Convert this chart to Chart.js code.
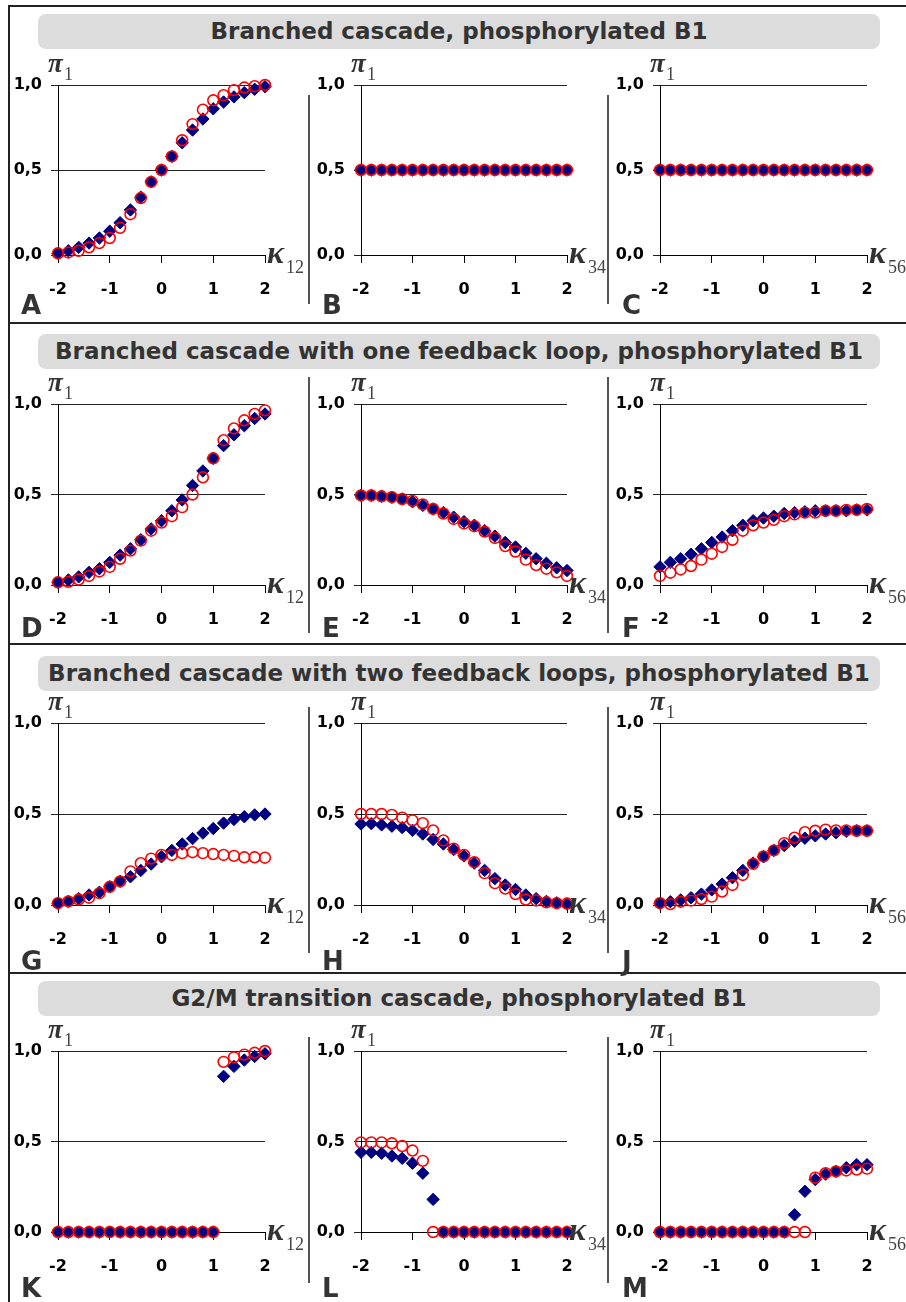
<!DOCTYPE html>
<html>
<head>
<meta charset="utf-8">
<script src="https://cdn.jsdelivr.net/npm/chart.js@4.4.1/dist/chart.umd.min.js"></script>
<style>
  html, body { margin: 0; padding: 0; background: #fff; }
  body { width: 906px; height: 1302px; overflow: hidden; position: relative; font-family: "DejaVu Sans", sans-serif; }
  .abs { position: absolute; }
  .banner { position: absolute; left: 38px; width: 842px; height: 35px; background: #dcdcdc; border-radius: 8px;
            color: #333; font-weight: bold; font-size: 23px; line-height: 35px; text-align: center; white-space: nowrap; }
  .letter { position: absolute; color: #333; font-weight: bold; font-size: 26px; line-height: 26px; }
  canvas { position: absolute; }
</style>
</head>
<body>
<script>
// x values (kappa, log scale) shared by every panel
const kappa = [-2, -1.8, -1.6, -1.4, -1.2, -1, -0.8, -0.6, -0.4, -0.2, 0, 0.2, 0.4, 0.6, 0.8, 1, 1.2, 1.4, 1.6, 1.8, 2];
const xTicks = [-2, -1, 0, 1, 2];
const yTicks = [0, 0.5, 1];

const sectionTitles = [
  'Branched cascade, phosphorylated B1',
  'Branched cascade with one feedback loop, phosphorylated B1',
  'Branched cascade with two feedback loops, phosphorylated B1',
  'G2/M transition cascade, phosphorylated B1'
];
const panelLetters = ['A', 'B', 'C', 'D', 'E', 'F', 'G', 'H', 'J', 'K', 'L', 'M'];
const kappaSubs = ['12', '34', '56'];

// blue diamonds / red circles, one pair per panel
const aDiamond = [0.01, 0.025, 0.045, 0.07, 0.10, 0.14, 0.19, 0.265, 0.34, 0.43, 0.50, 0.58, 0.66, 0.735, 0.80, 0.86, 0.90, 0.93, 0.955, 0.975, 0.99];
const aCircle  = [0.01, 0.015, 0.025, 0.045, 0.07, 0.10, 0.16, 0.24, 0.335, 0.43, 0.50, 0.58, 0.675, 0.77, 0.855, 0.91, 0.94, 0.97, 0.985, 0.993, 1.0];
const bDiamond = [0.5, 0.5, 0.5, 0.5, 0.5, 0.5, 0.5, 0.5, 0.5, 0.5, 0.5, 0.5, 0.5, 0.5, 0.5, 0.5, 0.5, 0.5, 0.5, 0.5, 0.5];
const bCircle  = [0.5, 0.5, 0.5, 0.5, 0.5, 0.5, 0.5, 0.5, 0.5, 0.5, 0.5, 0.5, 0.5, 0.5, 0.5, 0.5, 0.5, 0.5, 0.5, 0.5, 0.5];
const cDiamond = [0.5, 0.5, 0.5, 0.5, 0.5, 0.5, 0.5, 0.5, 0.5, 0.5, 0.5, 0.5, 0.5, 0.5, 0.5, 0.5, 0.5, 0.5, 0.5, 0.5, 0.5];
const cCircle  = [0.5, 0.5, 0.5, 0.5, 0.5, 0.5, 0.5, 0.5, 0.5, 0.5, 0.5, 0.5, 0.5, 0.5, 0.5, 0.5, 0.5, 0.5, 0.5, 0.5, 0.5];
const dDiamond = [0.015, 0.028, 0.045, 0.07, 0.09, 0.125, 0.165, 0.20, 0.25, 0.31, 0.355, 0.41, 0.47, 0.55, 0.63, 0.70, 0.77, 0.83, 0.88, 0.92, 0.945];
const dCircle  = [0.015, 0.018, 0.03, 0.05, 0.075, 0.10, 0.145, 0.19, 0.245, 0.30, 0.345, 0.38, 0.43, 0.50, 0.595, 0.70, 0.80, 0.865, 0.91, 0.945, 0.965];
const eDiamond = [0.495, 0.495, 0.49, 0.485, 0.475, 0.46, 0.44, 0.42, 0.40, 0.375, 0.35, 0.33, 0.30, 0.27, 0.235, 0.21, 0.175, 0.145, 0.12, 0.095, 0.08];
const eCircle  = [0.495, 0.495, 0.49, 0.485, 0.475, 0.465, 0.445, 0.42, 0.395, 0.365, 0.34, 0.325, 0.295, 0.26, 0.215, 0.185, 0.14, 0.11, 0.09, 0.07, 0.05];
const fDiamond = [0.10, 0.125, 0.145, 0.17, 0.20, 0.235, 0.265, 0.30, 0.33, 0.355, 0.37, 0.38, 0.395, 0.40, 0.405, 0.41, 0.41, 0.41, 0.41, 0.415, 0.415];
const fCircle  = [0.05, 0.068, 0.086, 0.105, 0.14, 0.173, 0.21, 0.25, 0.30, 0.33, 0.345, 0.36, 0.38, 0.39, 0.40, 0.40, 0.41, 0.41, 0.415, 0.415, 0.42];
const gDiamond = [0.01, 0.02, 0.035, 0.055, 0.07, 0.10, 0.13, 0.155, 0.19, 0.225, 0.265, 0.30, 0.335, 0.365, 0.395, 0.42, 0.45, 0.47, 0.485, 0.495, 0.50];
const gCircle  = [0.01, 0.02, 0.03, 0.04, 0.065, 0.10, 0.13, 0.185, 0.23, 0.255, 0.275, 0.275, 0.285, 0.29, 0.285, 0.28, 0.275, 0.27, 0.262, 0.262, 0.26];
const hDiamond = [0.445, 0.447, 0.44, 0.433, 0.425, 0.41, 0.39, 0.36, 0.335, 0.305, 0.27, 0.23, 0.19, 0.145, 0.11, 0.085, 0.055, 0.035, 0.02, 0.012, 0.006];
const hCircle  = [0.50, 0.50, 0.50, 0.495, 0.48, 0.465, 0.45, 0.41, 0.355, 0.31, 0.275, 0.235, 0.175, 0.12, 0.09, 0.06, 0.03, 0.025, 0.015, 0.01, 0.008];
const jDiamond = [0.01, 0.018, 0.028, 0.04, 0.06, 0.083, 0.115, 0.15, 0.19, 0.23, 0.265, 0.30, 0.327, 0.35, 0.367, 0.38, 0.39, 0.397, 0.405, 0.408, 0.408];
const jCircle  = [0.01, 0.005, 0.018, 0.024, 0.033, 0.046, 0.074, 0.11, 0.165, 0.226, 0.267, 0.30, 0.34, 0.37, 0.40, 0.408, 0.414, 0.41, 0.41, 0.408, 0.408];
const kDiamond = [0, 0, 0, 0, 0, 0, 0, 0, 0, 0, 0, 0, 0, 0, 0, 0, 0.86, 0.915, 0.95, 0.97, 0.985];
const kCircle  = [0, 0, 0, 0, 0, 0, 0, 0, 0, 0, 0, 0, 0, 0, 0, 0, 0.94, 0.965, 0.98, 0.99, 1.0];
const lDiamond = [0.44, 0.44, 0.435, 0.42, 0.407, 0.38, 0.325, 0.18, 0, 0, 0, 0, 0, 0, 0, 0, 0, 0, 0, 0, 0];
const lCircle  = [0.495, 0.495, 0.495, 0.49, 0.475, 0.45, 0.393, 0, 0, 0, 0, 0, 0, 0, 0, 0, 0, 0, 0, 0, 0];
const mDiamond = [0, 0, 0, 0, 0, 0, 0, 0, 0, 0, 0, 0, 0, 0.095, 0.225, 0.29, 0.32, 0.335, 0.355, 0.372, 0.372];
const mCircle  = [0, 0, 0, 0, 0, 0, 0, 0, 0, 0, 0, 0, 0, 0, 0, 0.30, 0.325, 0.335, 0.34, 0.345, 0.35];

const panels = [
  [aDiamond, aCircle], [bDiamond, bCircle], [cDiamond, cCircle],
  [dDiamond, dCircle], [eDiamond, eCircle], [fDiamond, fCircle],
  [gDiamond, gCircle], [hDiamond, hCircle], [jDiamond, jCircle],
  [kDiamond, kCircle], [lDiamond, lCircle], [mDiamond, mCircle]
];

// layout (page pixels)
const rowArea = [[85, 255], [404, 585], [723, 905], [1051, 1232]];   // y=1 and y=0 lines
const colArea = [[58, 265], [361, 567], [660, 867]];                 // x=-2 and x=2
const bannerTop = [14, 334, 656, 981];
const sectionLine = [5, 322, 643, 972];
const sepSpan = [[95, 304], [377, 633], [707, 953], [1037, 1283]];
const letterTop = [292, 615, 948, 1275];
const letterLeft = [21, 322, 622];
const Y_AXIS_W = 55, X_AXIS_H = 45, PAD_TOP = 30, PAD_RIGHT = 45;

function box(cls, left, top, w, h, bg) {
  const d = document.createElement('div');
  d.className = cls;
  d.style.left = left + 'px'; d.style.top = top + 'px';
  if (w != null) d.style.width = w + 'px';
  if (h != null) d.style.height = h + 'px';
  if (bg) d.style.background = bg;
  document.body.appendChild(d);
  return d;
}

// pi_1 above the y axis and kappa_xx at the end of the x axis
const axisSymbols = {
  id: 'axisSymbols',
  afterDraw(chart, args, opts) {
    const ctx = chart.ctx, a = chart.chartArea;
    ctx.save();
    ctx.textBaseline = 'alphabetic';
    ctx.textAlign = 'left';
    ctx.fillStyle = '#333';
    ctx.font = 'italic bold 27px "Liberation Serif"';
    ctx.fillText('π', a.left - 10, a.top - 13);
    ctx.fillStyle = '#444';
    ctx.font = '18px "Liberation Serif"';
    ctx.fillText('1', a.left + 6, a.top - 5);
    ctx.fillStyle = '#333';
    ctx.font = 'italic bold 32px "Liberation Serif"';
    ctx.fillText('κ', a.right + 2, a.bottom + 8);
    ctx.fillStyle = '#444';
    ctx.font = '18px "Liberation Serif"';
    ctx.fillText(opts.sub, a.right + 21, a.bottom + 18);
    ctx.restore();
  }
};

const tickFont = { family: 'DejaVu Sans', weight: 'bold', size: 16 };

function drawPanel(idx) {
  const row = Math.floor(idx / 3), col = idx % 3;
  const [top, bottom] = rowArea[row];
  const [left, right] = colArea[col];
  const cv = document.createElement('canvas');
  const w = right - left + Y_AXIS_W + PAD_RIGHT;
  const h = bottom - top + PAD_TOP + X_AXIS_H;
  cv.width = w; cv.height = h;
  cv.style.left = (left - Y_AXIS_W) + 'px';
  cv.style.top = (top - PAD_TOP) + 'px';
  document.body.appendChild(cv);

  const [diamonds, circles] = panels[idx];
  new Chart(cv, {
    type: 'scatter',
    data: {
      datasets: [
        {
          data: kappa.map((k, i) => ({ x: k, y: circles[i] })),
          pointStyle: 'circle', pointRadius: 5.4, pointBorderWidth: 1.6,
          pointBorderColor: '#ff0000', pointBackgroundColor: 'rgba(0,0,0,0)',
          clip: false
        },
        {
          data: kappa.map((k, i) => ({ x: k, y: diamonds[i] })),
          pointStyle: 'rectRot', pointRadius: 6.2, pointBorderWidth: 1,
          pointBorderColor: '#000080', pointBackgroundColor: '#000080',
          clip: false
        }
      ]
    },
    options: {
      responsive: false,
      animation: false,
      devicePixelRatio: 1,
      layout: { padding: { left: 0, top: PAD_TOP, right: PAD_RIGHT, bottom: 0 } },
      plugins: {
        legend: { display: false },
        tooltip: { enabled: false },
        axisSymbols: { sub: kappaSubs[col] }
      },
      scales: {
        x: {
          type: 'linear', min: -2, max: 2,
          afterBuildTicks: s => { s.ticks = xTicks.map(v => ({ value: v })); },
          afterFit: s => { s.height = X_AXIS_H; },
          grid: { drawOnChartArea: false, drawTicks: true, tickLength: 8, color: '#000', lineWidth: 1 },
          border: { display: true, color: '#000', width: 1 },
          ticks: { font: tickFont, color: '#000', padding: 17, maxRotation: 0, autoSkip: false,
                   callback: v => String(v) }
        },
        y: {
          type: 'linear', min: 0, max: 1,
          afterBuildTicks: s => { s.ticks = yTicks.map(v => ({ value: v })); },
          afterFit: s => { s.width = Y_AXIS_W; },
          grid: { drawOnChartArea: true, drawTicks: true, tickLength: 7, color: '#222', lineWidth: 1 },
          border: { display: true, color: '#000', width: 1 },
          ticks: { font: tickFont, color: '#000', padding: 9,
                   callback: v => v.toFixed(1).replace('.', ',') }
        }
      }
    },
    plugins: [axisSymbols]
  });
}

for (let i = 0; i < panels.length; i++) drawPanel(i);

// frame lines
box('abs', 8, 5, 2, 1297, '#222');
sectionLine.forEach(y => box('abs', 8, y, 898, 2, '#222'));
// column separators
sepSpan.forEach(([y0, y1]) => {
  box('abs', 308, y0, 2, y1 - y0, '#555');
  box('abs', 607, y0, 2, y1 - y0, '#555');
});
// section banners
sectionTitles.forEach((t, i) => { box('banner', 38, bannerTop[i]).textContent = t; });
// panel letters
panelLetters.forEach((l, i) => {
  box('letter', letterLeft[i % 3], letterTop[Math.floor(i / 3)]).textContent = l;
});
</script>
</body>
</html>
